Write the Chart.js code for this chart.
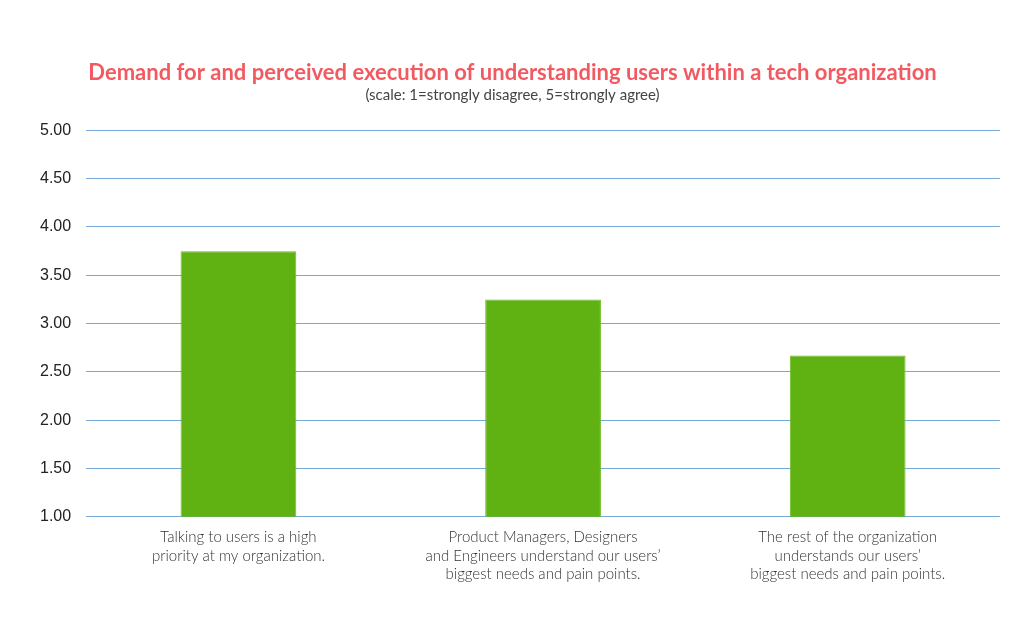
<!DOCTYPE html>
<html>
<head>
<meta charset="utf-8">
<script src="https://cdn.jsdelivr.net/npm/chart.js@4"></script>
<style>
  html, body { margin: 0; padding: 0; background: #fff; }
  #wrap { width: 1024px; height: 637px; }
</style>
</head>
<body>
<div id="wrap"><canvas id="myChart" width="1024" height="637"></canvas></div>
<script>
'use strict';
//////////////// data
let categories = [
  ['Talking to users is a high', 'priority at my organization.'],
  ['Product Managers, Designers', 'and Engineers understand our users\u2019', 'biggest needs and pain points.'],
  ['The rest of the organization', 'understands our users\u2019', 'biggest needs and pain points.']
];
let scores = [3.75, 3.25, 2.67];
let yMin = 1;
let yMax = 5;
let yStep = 0.5;

let titleText = 'Demand for and perceived execution of understanding users within a tech organization';
let subtitleText = '(scale: 1=strongly disagree, 5=strongly agree)';

///////////////////// chart
let ctx = document.getElementById('myChart').getContext('2d');
let myChart = new Chart(ctx, {
  type: 'bar',
  data: {
    labels: categories,
    datasets: [{
      label: 'Score',
      data: scores,
      backgroundColor: '#60b112',
      borderColor: '#6cbd25',
      borderWidth: 1,
      barPercentage: 0.76,
      categoryPercentage: 0.5
    }]
  },
  options: {
    responsive: false,
    animation: false,
    devicePixelRatio: 1,
    layout: { padding: { left: 25, right: 24, top: 4, bottom: 50 } },
    plugins: {
      legend: { display: false },
      tooltip: { enabled: false },
      title: {
        display: true,
        text: titleText,
        color: '#f25a62',
        font: { family: 'Lato', size: 22, weight: 'bold' },
        padding: { top: 56, bottom: 0 }
      },
      subtitle: {
        display: true,
        text: subtitleText,
        color: '#444',
        font: { family: 'Lato', size: 15 },
        padding: { top: 0, bottom: 26 }
      }
    },
    scales: {
      x: {
        grid: { display: false },
        border: { display: false },
        ticks: {
          color: '#333',
          font: { family: 'Lato', size: 15, weight: 300, lineHeight: 1.25 },
          padding: 3,
          maxRotation: 0,
          autoSkip: false
        }
      },
      y: {
        min: yMin,
        max: yMax,
        border: { display: false },
        grid: { color: '#78a8d6', lineWidth: 1, drawTicks: false },
        ticks: {
          stepSize: yStep,
          color: '#222',
          font: { family: 'Liberation Sans', size: 16 },
          padding: 15,
          callback: function (v) { return Number(v).toFixed(2); }
        }
      }
    }
  }
});
</script>
</body>
</html>
